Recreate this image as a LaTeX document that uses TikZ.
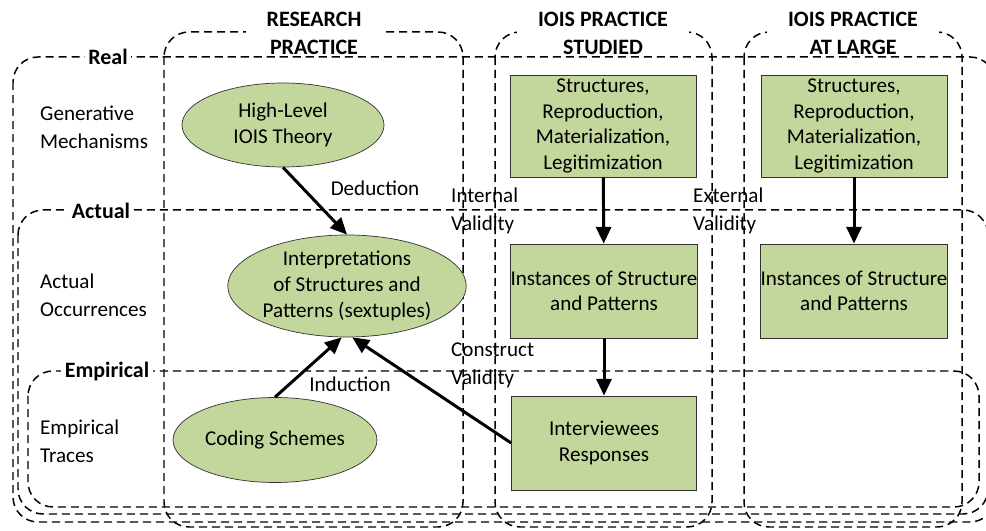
\documentclass[tikz,border=0pt]{standalone}
\usepackage{fontspec}
\setmainfont{Carlito}
\usepackage{tikz}
\usetikzlibrary{shapes.geometric,arrows.meta}
\definecolor{olivefill}{HTML}{C3D69B}

\begin{document}
\begin{tikzpicture}[x=0.2mm,y=-0.2mm,
        every node/.style={font=\fontsize{12}{15.9}\selectfont},
        zone/.style={dash pattern=on 4.6pt off 2.8pt, line width=0.85pt, rounded corners=0.5cm},
        head/.style={font=\fontsize{12.5}{15.9}\selectfont\bfseries, fill=white, align=center, inner xsep=12pt, inner ysep=0pt},
        tag/.style={font=\fontsize{12.5}{15.9}\selectfont\bfseries, fill=white, inner sep=2pt},
        ovalbox/.style={ellipse, draw=black!80, fill=olivefill, align=center, inner sep=0pt, font=\fontsize{12}{14.6}\selectfont},
        rectbox/.style={rectangle, draw=black!80, fill=olivefill, align=center, inner sep=0pt, font=\fontsize{12}{14.6}\selectfont},
        flow/.style={line width=1.7pt, -{Triangle[length=9.5pt,width=8.5pt]}}]
        \useasboundingbox (0,0) rectangle (986,531);
        % practice columns
        \draw[zone] (164,32) rectangle (463,527);
        \draw[zone] (495,32) rectangle (712,527);
        \draw[zone] (744,32) rectangle (962,527);
        \node[head] (hres) at (314,33) {RESEARCH\\PRACTICE};
        \node[head] (hstud) at (603,33) {IOIS PRACTICE\\STUDIED};
        \node[head] (hlarge) at (853,33) {IOIS PRACTICE\\AT LARGE};
        % domains
        \draw[zone] (13,57) rectangle (995,522);
        \draw[zone] (18,210) rectangle (988,514);
        \draw[zone] (28,371) rectangle (979,507);
        \node[tag] (real) at (108,57) {Real};
        \node[tag] (actual) at (101,211) {Actual};
        \node[tag] (empir) at (107,372) {Empirical};
        \node[anchor=west, align=left] (gen) at (34,127) {Generative\\Mechanisms};
        \node[anchor=west, align=left] (occ) at (34,295) {Actual\\Occurrences};
        \node[anchor=west, align=left] (trace) at (34,441) {Empirical\\Traces};
        % research side
        \node[ovalbox, minimum width=4.04cm, minimum height=1.68cm] (theory) at (283,125) {High-Level\\IOIS Theory};
        \node[ovalbox, minimum width=4.34cm, minimum height=2.04cm] (interp) at (347,286) {Interpretations\\of Structures and\\Patterns (sextuples)};
        \node[ovalbox, minimum width=4.08cm, minimum height=1.70cm] (coding) at (275,440) {Coding Schemes};
        % practice studied
        \node[rectbox, minimum width=3.72cm, minimum height=2.04cm] (struct) at (603,126) {Structures,\\Reproduction,\\Materialization,\\Legitimization};
        \node[rectbox, minimum width=3.70cm, minimum height=1.88cm] (inst) at (604,291) {Instances of Structure\\and Patterns};
        \node[rectbox, minimum width=3.70cm, minimum height=1.88cm] (resp) at (604,443) {Interviewees\\Responses};
        % practice at large
        \node[rectbox, minimum width=3.72cm, minimum height=2.04cm] (structL) at (854,126) {Structures,\\Reproduction,\\Materialization,\\Legitimization};
        \node[rectbox, minimum width=3.72cm, minimum height=1.88cm] (instL) at (854,291) {Instances of Structure\\and Patterns};
        % connectors
        \draw[flow] (theory.south) -- (interp.north);
        \draw[flow] (coding.north) -- ([xshift=-3pt]interp.south);
        \draw[flow] (resp.west) -- ([xshift=3pt]interp.south);
        \draw[flow] (struct) -- (inst);
        \draw[flow] (inst) -- (resp);
        \draw[flow] (structL) -- (instL);
        \node (ded) at (375,188) {Deduction};
        \node (ind) at (350,384) {Induction};
        \node[anchor=west, align=left] (intval) at (445,211) {Internal\\Validity};
        \node[anchor=west, align=left] (extval) at (687,211) {External\\Validity};
        \node[anchor=west, align=left] (conval) at (445,365) {Construct\\Validity};
\end{tikzpicture}
\end{document}
